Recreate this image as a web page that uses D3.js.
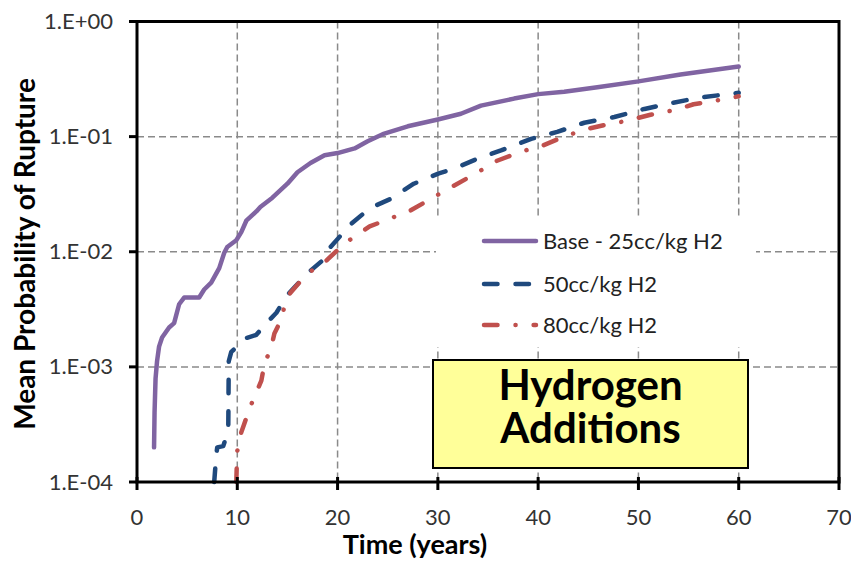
<!DOCTYPE html>
<html>
<head>
<meta charset="utf-8">
<script src="https://cdn.jsdelivr.net/npm/d3@7"></script>
<style>
  html, body { margin: 0; padding: 0; background: #fff; }
  svg { display: block; font-family: Lato, "Open Sans", sans-serif; }
</style>
</head>
<body>
<svg id="chart" width="851" height="573"></svg>
<script>
'use strict';

// Base - 25cc/kg H2
var baseTime = [1.7, 1.75, 1.85, 2.0, 2.2, 2.5, 3.2, 3.7, 4.2, 4.7, 6.2, 6.7, 7.4, 8.2, 8.7, 9.0, 9.9,
    10.4, 10.9, 11.9, 12.3, 13.5, 15.0, 16.0, 17.3, 18.7, 20.0, 21.7, 23.0, 24.5, 27.0, 30.0,
    32.3, 34.3, 37.6, 40.0, 42.6, 45.9, 50.0, 54.2, 60.0];
var baseProb = [2.0e-4, 4.0e-4, 7.9e-4, 1.12e-3, 1.5e-3, 1.8e-3, 2.2e-3, 2.4e-3, 3.5e-3, 4.0e-3, 4.0e-3,
    4.7e-3, 5.4e-3, 7.2e-3, 9.8e-3, 0.011, 0.0126, 0.0148, 0.0186, 0.0224, 0.0245, 0.0295, 0.039,
    0.049, 0.059, 0.069, 0.072, 0.079, 0.091, 0.105, 0.123, 0.141, 0.158, 0.186, 0.214, 0.234,
    0.245, 0.269, 0.302, 0.347, 0.407];

// 50cc/kg H2
var h50Time = [7.7, 7.9, 8.0, 8.6, 9.1, 9.15, 9.4, 9.8, 10.9, 11.9, 13.0, 13.9, 14.9, 15.2, 17.0,
    18.7, 19.3, 20.7, 21.2, 22.7, 23.5, 25.3, 27.6, 30.1, 31.6, 34.0, 36.3, 39.3, 41.9, 44.6,
    47.6, 50.6, 53.2, 56.2, 60.0];
var h50Prob = [1.0e-4, 1.7e-4, 2.0e-4, 2.05e-4, 2.8e-4, 1.12e-3, 1.35e-3, 1.45e-3, 1.78e-3, 1.9e-3,
    2.45e-3, 2.95e-3, 4.1e-3, 4.4e-3, 6.5e-3, 8.7e-3, 0.011, 0.0151, 0.017, 0.0219, 0.0245,
    0.0288, 0.039, 0.048, 0.0525, 0.0646, 0.0759, 0.0955, 0.11, 0.132, 0.148, 0.174, 0.195,
    0.219, 0.24];

// 80cc/kg H2
var h80Time = [9.9, 9.95, 10.0, 10.4, 10.7, 11.2, 11.9, 12.4, 12.7, 13.4, 13.7, 14.4, 14.9, 15.3,
    16.5, 17.7, 18.7, 19.7, 20.8, 22.0, 23.2, 25.3, 27.3, 29.3, 31.1, 33.6, 35.9, 38.3, 40.4,
    42.6, 44.6, 46.6, 49.0, 51.2, 53.6, 55.5, 58.2, 60.0];
var h80Prob = [1.0e-4, 1.4e-4, 1.86e-4, 2.7e-4, 3.2e-4, 4.3e-4, 6.0e-4, 7.6e-4, 1.05e-3, 1.5e-3,
    1.95e-3, 2.6e-3, 4.0e-3, 4.4e-3, 5.8e-3, 7.2e-3, 8.1e-3, 9.8e-3, 0.012, 0.0141, 0.0166,
    0.0195, 0.0229, 0.0288, 0.0355, 0.0468, 0.0617, 0.0741, 0.0832, 0.1, 0.115, 0.126, 0.138,
    0.155, 0.17, 0.191, 0.209, 0.224];

var xTicks = [0, 10, 20, 30, 40, 50, 60, 70];
var yTicks = [1e-4, 1e-3, 1e-2, 1e-1, 1];
var yTickLabels = ['1.E-04', '1.E-03', '1.E-02', '1.E-01', '1.E+00'];

var seriesNames = ['Base - 25cc/kg H2', '50cc/kg H2', '80cc/kg H2'];
var seriesColors = ['#8064A2', '#1F497D', '#C0504D'];
var seriesDashes = [null, '13.5,18', '13.5,18,0.1,18'];

var series = [
    { name: seriesNames[0], time: baseTime, prob: baseProb },
    { name: seriesNames[1], time: h50Time, prob: h50Prob },
    { name: seriesNames[2], time: h80Time, prob: h80Prob }
];

var svg = d3.select('#chart');
var plotLeft = 137, plotRight = 839, plotTop = 21.5, plotBottom = 482;

var x = d3.scaleLinear().domain([0, 70]).range([plotLeft, plotRight]);
var y = d3.scaleLog().domain([1e-4, 1]).range([plotBottom, plotTop]);

// gridlines
var grid = svg.append('g')
    .attr('stroke', '#8a8a8a')
    .attr('stroke-width', 1.5)
    .attr('stroke-dasharray', '7,4');

grid.selectAll('line.vg')
    .data(xTicks.slice(1, -1))
    .enter().append('line')
    .attr('x1', function(d) { return x(d); })
    .attr('x2', function(d) { return x(d); })
    .attr('y1', plotTop)
    .attr('y2', plotBottom);

grid.selectAll('line.hg')
    .data(yTicks.slice(1, -1))
    .enter().append('line')
    .attr('x1', plotLeft)
    .attr('x2', plotRight)
    .attr('y1', function(d) { return y(d); })
    .attr('y2', function(d) { return y(d); });

// legend background hides the grid behind it
svg.append('rect')
    .attr('x', 436).attr('y', 218)
    .attr('width', 320).attr('height', 129)
    .attr('fill', '#fff');

// annotation box
var note = svg.append('g');
note.append('rect')
    .attr('x', 433).attr('y', 360)
    .attr('width', 315).attr('height', 108)
    .attr('fill', '#FFFF99')
    .attr('stroke', '#000')
    .attr('stroke-width', 2);
note.selectAll('text')
    .data(['Hydrogen', 'Additions'])
    .enter().append('text')
    .attr('x', 590.5)
    .attr('y', function(d, i) { return 400 + i * 43; })
    .attr('text-anchor', 'middle')
    .attr('font-size', 42)
    .attr('font-weight', 'bold')
    .attr('fill', '#000')
    .text(function(d) { return d; });

// series
var line = d3.line()
    .x(function(d) { return x(d[0]); })
    .y(function(d) { return y(d[1]); });

svg.append('g').selectAll('path')
    .data(series)
    .enter().append('path')
    .attr('d', function(s) { return line(d3.zip(s.time, s.prob)); })
    .attr('fill', 'none')
    .attr('stroke', function(s, i) { return seriesColors[i]; })
    .attr('stroke-width', 4.5)
    .attr('stroke-linecap', 'round')
    .attr('stroke-linejoin', 'round')
    .attr('stroke-dasharray', function(s, i) { return seriesDashes[i]; });

// frame and axes
var axes = svg.append('g').attr('stroke', '#000').attr('stroke-width', 3);
axes.append('rect')
    .attr('x', plotLeft).attr('y', plotTop)
    .attr('width', plotRight - plotLeft).attr('height', plotBottom - plotTop)
    .attr('fill', 'none');

axes.selectAll('line.yt')
    .data(yTicks)
    .enter().append('line')
    .attr('x1', plotLeft - 8).attr('x2', plotLeft)
    .attr('y1', function(d) { return y(d); })
    .attr('y2', function(d) { return y(d); });

axes.selectAll('line.xt')
    .data(xTicks)
    .enter().append('line')
    .attr('x1', function(d) { return x(d); })
    .attr('x2', function(d) { return x(d); })
    .attr('y1', plotBottom - 5).attr('y2', plotBottom + 8);

svg.append('g').selectAll('text')
    .data(yTicks)
    .enter().append('text')
    .attr('x', 113)
    .attr('y', function(d) { return y(d) + 7.5; })
    .attr('text-anchor', 'end')
    .attr('font-size', 22)
    .attr('fill', '#333')
    .text(function(d, i) { return yTickLabels[i]; });

svg.append('g').selectAll('text')
    .data(xTicks)
    .enter().append('text')
    .attr('x', function(d) { return x(d); })
    .attr('y', 525)
    .attr('text-anchor', 'middle')
    .attr('font-size', 22)
    .attr('fill', '#333')
    .text(function(d) { return d; });

// axis titles
svg.append('text')
    .attr('x', 415).attr('y', 554)
    .attr('text-anchor', 'middle')
    .attr('font-size', 27)
    .attr('font-weight', 'bold')
    .attr('fill', '#000')
    .text('Time (years)');

svg.append('text')
    .attr('transform', 'translate(35,254) rotate(-90)')
    .attr('text-anchor', 'middle')
    .attr('font-size', 28)
    .attr('font-weight', 'bold')
    .attr('fill', '#000')
    .text('Mean Probability of Rupture');

// legend
var legendY = [241, 284, 325];
var legend = svg.append('g').selectAll('g')
    .data(series)
    .enter().append('g')
    .attr('transform', function(s, i) { return 'translate(0,' + legendY[i] + ')'; });

legend.append('line')
    .attr('x1', 484).attr('x2', 536)
    .attr('stroke', function(s, i) { return seriesColors[i]; })
    .attr('stroke-width', 4.5)
    .attr('stroke-linecap', 'round')
    .attr('stroke-dasharray', function(s, i) { return seriesDashes[i]; });

legend.append('text')
    .attr('x', 543).attr('y', 7.5)
    .attr('font-size', 22)
    .attr('fill', '#222')
    .text(function(s) { return s.name; });
</script>
</body>
</html>
